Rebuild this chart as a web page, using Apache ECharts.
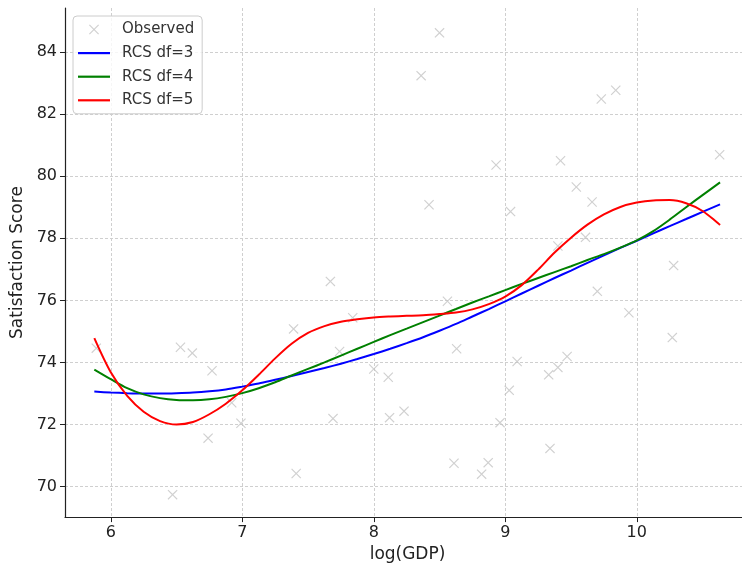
<!DOCTYPE html>
<html><head><meta charset="utf-8">
<script src="https://cdn.jsdelivr.net/npm/echarts@6/dist/echarts.min.js"></script>
<style>html,body{margin:0;padding:0;background:#fff}#c{width:742px;height:568px}</style>
</head><body><div id="c"></div>
<script>
// Observed points (log GDP, satisfaction score)
const obsX = [5.89,6.47,6.53,6.62,6.74,6.77,6.92,6.99,7.39,7.41,7.67,7.69,7.74,7.84,8.00,8.11,8.12,8.23,8.36,8.42,8.50,8.56,8.61,8.63,8.82,8.87,8.93,8.96,9.03,9.04,9.09,9.33,9.34,9.40,9.40,9.42,9.47,9.54,9.61,9.66,9.70,9.73,9.84,9.94,10.27,10.28,10.63];
const obsY = [74.46,69.74,74.49,74.30,71.56,73.73,72.70,72.04,75.08,70.42,76.61,72.19,74.35,75.44,73.79,73.52,72.22,72.43,83.24,79.08,84.62,75.97,70.75,74.44,70.40,70.77,80.36,72.06,73.10,78.86,74.03,73.60,71.23,73.84,77.75,80.50,74.19,79.65,78.03,79.17,76.29,82.49,82.77,75.60,74.80,77.12,80.69];
// Fitted curves read along log GDP
const curveX = [5.875,6.0,6.125,6.25,6.375,6.5,6.625,6.75,6.875,7.0,7.125,7.25,7.375,7.5,7.625,7.75,7.875,8.0,8.125,8.25,8.375,8.5,8.625,8.75,8.875,9.0,9.125,9.25,9.375,9.5,9.625,9.75,9.875,10.0,10.125,10.25,10.375,10.5,10.633];
const rcs3 = [73.06,73.03,73.01,73.00,73.00,73.01,73.03,73.07,73.13,73.22,73.32,73.44,73.56,73.69,73.82,73.96,74.11,74.27,74.44,74.62,74.81,75.02,75.24,75.48,75.72,75.97,76.22,76.47,76.72,76.96,77.21,77.45,77.69,77.92,78.16,78.39,78.62,78.85,79.09];
const rcs4 = [73.77,73.46,73.17,72.97,72.85,72.79,72.78,72.81,72.89,73.01,73.17,73.36,73.58,73.79,74.00,74.22,74.44,74.66,74.88,75.09,75.30,75.51,75.72,75.93,76.13,76.33,76.53,76.72,76.91,77.10,77.30,77.49,77.70,77.93,78.23,78.60,79.00,79.39,79.80];
const rcs5 = [74.78,73.68,72.92,72.41,72.11,72.00,72.08,72.33,72.67,73.10,73.60,74.13,74.60,74.95,75.17,75.31,75.39,75.45,75.48,75.50,75.52,75.56,75.61,75.71,75.88,76.12,76.49,76.99,77.54,78.02,78.44,78.77,79.01,79.15,79.22,79.23,79.13,78.88,78.43];
const xTicks = [6,7,8,9,10];
const yTicks = [70,72,74,76,78,80,82,84];
const seriesNames = ['Observed','RCS df=3','RCS df=4','RCS df=5'];

const X_PATH = 'path://M0,8 L8,0 L50,42 L92,0 L100,8 L58,50 L100,92 L92,100 L50,58 L8,100 L0,92 L42,50 Z';
const LINE_PATH = 'path://M0,0 H32 V2.2 H0 Z';
const FONT = 'DejaVu Sans';

const chart = echarts.init(document.getElementById('c'), null, {renderer:'canvas'});
const pair = (xs, ys) => xs.map((x, i) => [x, ys[i]]);
const lineSeries = (name, ys, color) => ({
  name, type:'line', data: pair(curveX, ys), symbol:'none', smooth:0.3,
  lineStyle:{color, width:2}, itemStyle:{color}, z:3, silent:true
});
const axisCommon = (ticks) => ({
  axisLine:{show:true, onZero:false, lineStyle:{color:'#222', width:1.2}},
  axisTick:{show:true, length:5, lineStyle:{color:'#222'}, customValues:ticks},
  axisLabel:{fontFamily:FONT, fontSize:16, color:'#222', margin:8, customValues:ticks},
  splitLine:{show:true, customValues:ticks, lineStyle:{color:'#cfcfcf', type:[3,2], width:1}},
  nameTextStyle:{fontFamily:FONT, fontSize:17, color:'#222'}
});
chart.setOption({
  animation:false,
  backgroundColor:'#fff',
  grid:{left:65, top:8, right:0, bottom:48},
  xAxis:Object.assign({
    type:'value', min:5.652, max:10.80,
    name:'log(GDP)', nameLocation:'middle', nameGap:28
  }, axisCommon(xTicks), {nameTextStyle:{fontFamily:FONT, fontSize:17, color:'#222', padding:[0,0,0,8]}}),
  yAxis:Object.assign({
    type:'value', min:69.016, max:85.42,
    name:'Satisfaction Score', nameLocation:'middle', nameGap:37
  }, axisCommon(yTicks)),
  legend:{
    orient:'vertical', left:73, top:16,
    data:[
      {name:seriesNames[0], icon:X_PATH},
      {name:seriesNames[1], icon:LINE_PATH},
      {name:seriesNames[2], icon:LINE_PATH},
      {name:seriesNames[3], icon:LINE_PATH}
    ],
    itemWidth:32, itemHeight:10, itemGap:8.6,
    padding:[6,8,6,5],
    backgroundColor:'rgba(255,255,255,0.8)',
    borderColor:'#cccccc', borderWidth:1, borderRadius:4,
    textStyle:{fontFamily:FONT, fontSize:15, color:'#333', padding:[0,0,0,7]},
    selectedMode:false
  },
  series:[
    {name:seriesNames[0], type:'scatter', data:pair(obsX, obsY), symbol:X_PATH, symbolSize:10,
     itemStyle:{color:'#c4c4c4'}, z:2, silent:true},
    lineSeries(seriesNames[1], rcs3, '#0000ff'),
    lineSeries(seriesNames[2], rcs4, '#008000'),
    lineSeries(seriesNames[3], rcs5, '#ff0000')
  ]
});
</script>
</body></html>
